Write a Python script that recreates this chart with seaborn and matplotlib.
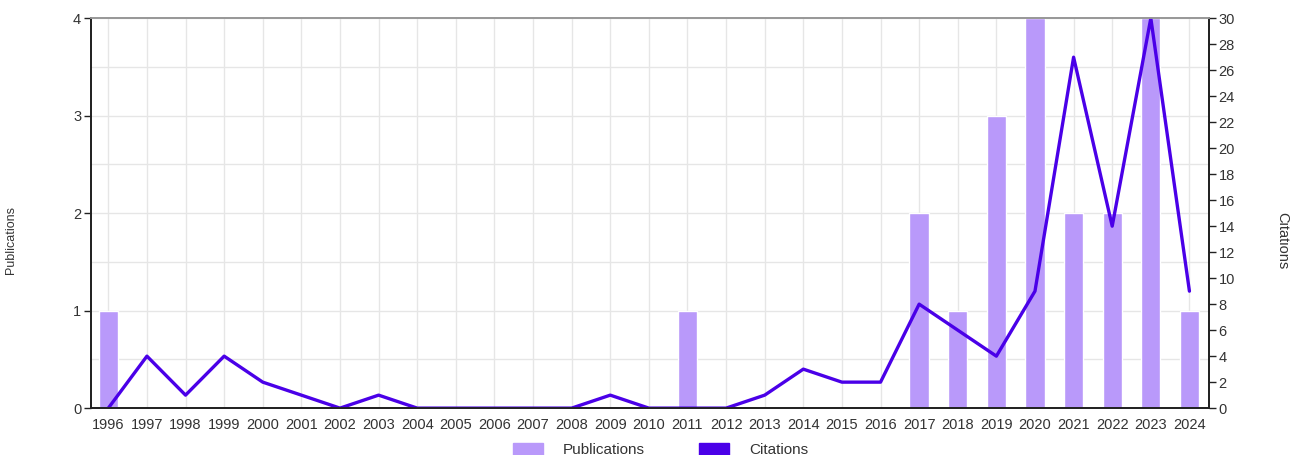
import numpy as np
import pandas as pd
import matplotlib
matplotlib.use('Agg')
import matplotlib.pyplot as plt
import seaborn as sns
from matplotlib.patches import Patch

years = list(range(1996, 2025))
publications = [1, 0, 0, 0, 0, 0, 0, 0, 0, 0, 0, 0, 0, 0, 0, 1, 0, 0, 0, 0, 0,
                2, 1, 3, 4, 2, 2, 4, 1]
citations = [0, 4, 1, 4, 2, 1, 0, 1, 0, 0, 0, 0, 0, 1, 0, 0, 0, 1, 3, 2, 2,
             8, 6, 4, 9, 27, 14, 30, 9]

bar_color = '#b999fa'
line_color = '#4a00e8'

df = pd.DataFrame({'Year': years, 'Publications': publications, 'Citations': citations})

sns.set_style('white')
plt.rcParams['font.family'] = ['Liberation Sans', 'DejaVu Sans']

fig = plt.figure(figsize=(12.9, 4.55), dpi=100)
ax = fig.add_axes([0.0705, 0.103, 0.8665, 0.857])

sns.barplot(data=df, x='Year', y='Publications', native_scale=True, width=0.5,
            color=bar_color, saturation=1, ax=ax, zorder=2)
ax.set_xlim(1995.55, 2024.5)
ax.set_ylim(0, 4)
ax.set_yticks([0, 1, 2, 3, 4])
ax.set_yticks(np.arange(0, 4.01, 0.5), minor=True)
ax.set_xticks(years)
ax.set_xticklabels([str(y) for y in years])
ax.grid(True, which='both', axis='y', color='#e6e6e6', lw=1, zorder=0)
ax.grid(True, which='major', axis='x', color='#e6e6e6', lw=1, zorder=0)
ax.set_axisbelow(True)
ax.tick_params(axis='y', which='minor', length=0)
ax.tick_params(axis='both', which='major', length=5, width=1, color='#222222',
               labelsize=10.5, labelcolor='#333333', direction='out', pad=2)
ax.set_xlabel('')
ax.set_ylabel('Publications', fontsize=9, color='#333333')
ax.yaxis.set_label_coords(-0.066, 0.43)

ax2 = ax.twinx()
sns.lineplot(data=df, x='Year', y='Citations', color=line_color, lw=2.4, ax=ax2)
ax2.set_ylim(0, 30)
ax2.set_yticks(range(0, 31, 2))
ax2.tick_params(axis='y', length=5, width=1, color='#222222', labelsize=10.5,
                labelcolor='#333333', pad=2)
ax2.set_ylabel('Citations', fontsize=10.5, color='#333333', rotation=270,
               va='center')
ax2.yaxis.set_label_coords(1.066, 0.43)
ax2.set_xlim(1995.55, 2024.5)

for a in (ax, ax2):
    for side in ('left', 'bottom', 'right'):
        a.spines[side].set_color('#222222')
        a.spines[side].set_linewidth(1.3)
    a.spines['top'].set_color('#999999')
    a.spines['top'].set_linewidth(1.3)

handles = [Patch(color=bar_color, label='Publications'),
           Patch(color=line_color, label='Citations')]
fig.legend(handles=handles, loc='lower center', bbox_to_anchor=(0.512, -0.035),
           ncol=2, frameon=False, fontsize=11, handlelength=2.0,
           handleheight=0.9, columnspacing=3.5, handletextpad=1.3,
           labelcolor='#333333')

fig.savefig('out.png', dpi=100)
